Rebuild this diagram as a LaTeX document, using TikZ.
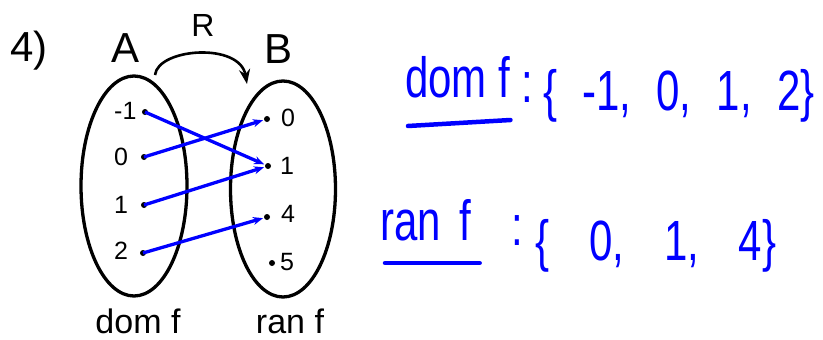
\documentclass[tikz,border=0pt]{standalone}
\usepackage{fontspec}
\setmainfont{Liberation Sans}
\usetikzlibrary{shapes.geometric,arrows.meta,positioning}

\definecolor{penblue}{rgb}{0,0,1}
\newcommand{\fsz}[1]{\fontsize{#1}{#1}\selectfont}

\begin{document}
\begin{tikzpicture}[x=1pt,y=-1pt,>=Stealth,
    dot/.style={shape=circle,fill=black,inner sep=0pt,minimum size=6pt},
    setshape/.style={shape=ellipse,draw=black,line width=3.3pt,inner sep=0pt},
    lbl/.style={font=\fsz{25},inner sep=0pt,anchor=west},
    big/.style={font=\fsz{42},inner sep=0pt,anchor=base},
    hand/.style={text=penblue,inner sep=0pt,anchor=base west,yscale=1.35,font=\fsz{42}},
    mapto/.style={-{Stealth[length=10pt,width=8pt]},draw=penblue,line width=3.3pt,shorten >=1pt},
    penline/.style={draw=penblue,line width=4.5pt,line cap=round}]
        \useasboundingbox (0,0) rectangle (823,340);
        % heading and set names
        \node[big](num) at (29,61) {4)};
        \node[big](nameA) at (126,62) {A};
        \node[big](nameB) at (279,63) {B};
        \node[font=\fsz{32},inner sep=0pt,anchor=base](rel) at (203,36) {R};
        % the two sets
        \node[setshape,minimum width=106pt,minimum height=220pt](setA) at (134,186) {};
        \node[setshape,minimum width=105pt,minimum height=216pt](setB) at (283,189) {};
        \coordinate (rfrom) at (155,75);
        \coordinate (rto) at (247,84);
        \draw[->,line width=2.6pt] (rfrom) .. controls (158,48) and (240,42) .. (rto);
        % elements of A
        \node[dot](a1) at (145,112) {};
        \node[dot](a2) at (144,157) {};
        \node[dot](a3) at (144,205) {};
        \node[dot](a4) at (143,253) {};
        \node[lbl](la1) at (114,111) {-1};
        \node[lbl](la2) at (114,157) {0};
        \node[lbl](la3) at (114,205) {1};
        \node[lbl](la4) at (114,251) {2};
        % elements of B
        \node[dot](b1) at (267,119) {};
        \node[dot](b2) at (268,166) {};
        \node[dot](b3) at (267,217) {};
        \node[dot](b4) at (272,263) {};
        \node[lbl](lb1) at (281,118) {0};
        \node[lbl](lb2) at (280,166) {1};
        \node[lbl](lb3) at (281,214) {4};
        \node[lbl](lb4) at (280,262) {5};
        % the mapping
        \path (a1.center) edge[mapto] (b2);
        \path (a2.center) edge[mapto] (b1);
        \path (a3.center) edge[mapto] (b2);
        \path (a4.center) edge[mapto] (b3);
        \node[font=\fsz{34},inner sep=0pt,anchor=base](dom) at (138,333) {dom f};
        \node[font=\fsz{34},inner sep=0pt,anchor=base](ran) at (290,333) {ran f};
        % written answers
        \node[hand](domtxt) at (405,97) {dom f};
        \node[hand](domcol) at (521,102) {:};
        \node[hand,font={\fsz{42}\spaceskip=0.6em}](domset) at (543,110) {\{ -1, 0, 1, 2\}};
        \draw[penline] ([xshift=3pt,yshift=-29pt]domtxt.base west) -- ([yshift=-23pt]domtxt.base east);
        \node[hand,font={\fsz{42}\spaceskip=0.45em}](rantxt) at (380,240) {ran f};
        \node[hand](rancol) at (511,245) {:};
        \node[hand,font={\fsz{42}\spaceskip=0.95em}](ranset) at (535,260) {\{ 0, 1, 4\}};
        \draw[penline] ([xshift=5pt,yshift=-23pt]rantxt.base west) -- ([xshift=8pt,yshift=-23pt]rantxt.base east);
\end{tikzpicture}
\end{document}
